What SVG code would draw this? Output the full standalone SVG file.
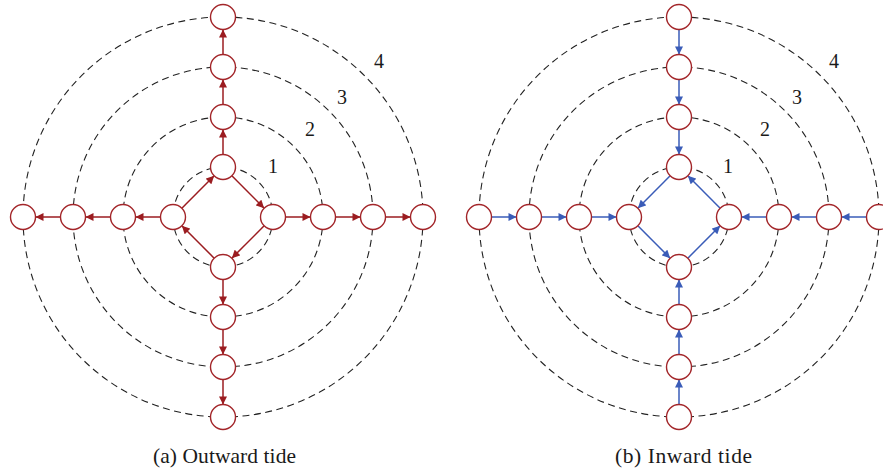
<svg xmlns="http://www.w3.org/2000/svg" width="883" height="470" viewBox="0 0 883 470">
<style>
.ring{fill:none;stroke:#222;stroke-width:1.1;stroke-dasharray:7 4.5}
.node circle{fill:#fff;stroke:#a3262a;stroke-width:1.4}
.out line{stroke:#9b1c20;stroke-width:1.5;marker-end:url(#ar)}
.in line{stroke:#3a5cb8;stroke-width:1.5;marker-end:url(#ab)}
.lbl{font-family:"Liberation Serif",serif;font-size:20px;fill:#1a1a1a}
.cap{font-family:"Liberation Serif",serif;font-size:21.5px;fill:#1a1a1a;text-anchor:middle}
</style>
<defs>
<marker id="ar" viewBox="0 0 10 10" refX="10" refY="5" markerWidth="9" markerHeight="8" markerUnits="userSpaceOnUse" orient="auto"><path d="M0,0 L10,5 L0,10 z" fill="#9b1c20"/></marker>
<marker id="ab" viewBox="0 0 10 10" refX="10" refY="5" markerWidth="9" markerHeight="8" markerUnits="userSpaceOnUse" orient="auto"><path d="M0,0 L10,5 L0,10 z" fill="#3a5cb8"/></marker>
</defs>
<g id="rings">
<circle class="ring" cx="223" cy="217" r="50"/>
<circle class="ring" cx="223" cy="217" r="100"/>
<circle class="ring" cx="223" cy="217" r="150"/>
<circle class="ring" cx="223" cy="217" r="200"/>
<circle class="ring" cx="679" cy="217" r="50"/>
<circle class="ring" cx="679" cy="217" r="100"/>
<circle class="ring" cx="679" cy="217" r="150"/>
<circle class="ring" cx="679" cy="217" r="200"/>
</g>
<g id="connectors">
<g class="out">
<line x1="223" y1="154.5" x2="223" y2="129.5"/>
<line x1="223" y1="104.5" x2="223" y2="79.5"/>
<line x1="223" y1="54.5" x2="223" y2="29.5"/>
<line x1="223" y1="279.5" x2="223" y2="304.5"/>
<line x1="223" y1="329.5" x2="223" y2="354.5"/>
<line x1="223" y1="379.5" x2="223" y2="404.5"/>
<line x1="160.5" y1="217" x2="135.5" y2="217"/>
<line x1="110.5" y1="217" x2="85.5" y2="217"/>
<line x1="60.5" y1="217" x2="35.5" y2="217"/>
<line x1="285.5" y1="217" x2="310.5" y2="217"/>
<line x1="335.5" y1="217" x2="360.5" y2="217"/>
<line x1="385.5" y1="217" x2="410.5" y2="217"/>
<line x1="231.84" y1="175.84" x2="264.16" y2="208.16"/>
<line x1="264.16" y1="225.84" x2="231.84" y2="258.16"/>
<line x1="214.16" y1="258.16" x2="181.84" y2="225.84"/>
<line x1="181.84" y1="208.16" x2="214.16" y2="175.84"/>
</g>
<g class="in">
<line x1="679" y1="29.5" x2="679" y2="54.5"/>
<line x1="679" y1="79.5" x2="679" y2="104.5"/>
<line x1="679" y1="129.5" x2="679" y2="154.5"/>
<line x1="679" y1="404.5" x2="679" y2="379.5"/>
<line x1="679" y1="354.5" x2="679" y2="329.5"/>
<line x1="679" y1="304.5" x2="679" y2="279.5"/>
<line x1="491.5" y1="217" x2="516.5" y2="217"/>
<line x1="541.5" y1="217" x2="566.5" y2="217"/>
<line x1="591.5" y1="217" x2="616.5" y2="217"/>
<line x1="866.5" y1="217" x2="841.5" y2="217"/>
<line x1="816.5" y1="217" x2="791.5" y2="217"/>
<line x1="766.5" y1="217" x2="741.5" y2="217"/>
<line x1="670.16" y1="175.84" x2="637.84" y2="208.16"/>
<line x1="637.84" y1="225.84" x2="670.16" y2="258.16"/>
<line x1="687.84" y1="258.16" x2="720.16" y2="225.84"/>
<line x1="720.16" y1="208.16" x2="687.84" y2="175.84"/>
</g>
</g>
<g id="nodes-a">
<g class="node" id="a-t1"><circle cx="223" cy="167" r="12.5"/></g>
<g class="node" id="a-t2"><circle cx="223" cy="117" r="12.5"/></g>
<g class="node" id="a-t3"><circle cx="223" cy="67" r="12.5"/></g>
<g class="node" id="a-t4"><circle cx="223" cy="17" r="12.5"/></g>
<g class="node" id="a-b1"><circle cx="223" cy="267" r="12.5"/></g>
<g class="node" id="a-b2"><circle cx="223" cy="317" r="12.5"/></g>
<g class="node" id="a-b3"><circle cx="223" cy="367" r="12.5"/></g>
<g class="node" id="a-b4"><circle cx="223" cy="417" r="12.5"/></g>
<g class="node" id="a-l1"><circle cx="173" cy="217" r="12.5"/></g>
<g class="node" id="a-l2"><circle cx="123" cy="217" r="12.5"/></g>
<g class="node" id="a-l3"><circle cx="73" cy="217" r="12.5"/></g>
<g class="node" id="a-l4"><circle cx="23" cy="217" r="12.5"/></g>
<g class="node" id="a-r1"><circle cx="273" cy="217" r="12.5"/></g>
<g class="node" id="a-r2"><circle cx="323" cy="217" r="12.5"/></g>
<g class="node" id="a-r3"><circle cx="373" cy="217" r="12.5"/></g>
<g class="node" id="a-r4"><circle cx="423" cy="217" r="12.5"/></g>
</g>
<g id="nodes-b">
<g class="node" id="b-t1"><circle cx="679" cy="167" r="12.5"/></g>
<g class="node" id="b-t2"><circle cx="679" cy="117" r="12.5"/></g>
<g class="node" id="b-t3"><circle cx="679" cy="67" r="12.5"/></g>
<g class="node" id="b-t4"><circle cx="679" cy="17" r="12.5"/></g>
<g class="node" id="b-b1"><circle cx="679" cy="267" r="12.5"/></g>
<g class="node" id="b-b2"><circle cx="679" cy="317" r="12.5"/></g>
<g class="node" id="b-b3"><circle cx="679" cy="367" r="12.5"/></g>
<g class="node" id="b-b4"><circle cx="679" cy="417" r="12.5"/></g>
<g class="node" id="b-l1"><circle cx="629" cy="217" r="12.5"/></g>
<g class="node" id="b-l2"><circle cx="579" cy="217" r="12.5"/></g>
<g class="node" id="b-l3"><circle cx="529" cy="217" r="12.5"/></g>
<g class="node" id="b-l4"><circle cx="479" cy="217" r="12.5"/></g>
<g class="node" id="b-r1"><circle cx="729" cy="217" r="12.5"/></g>
<g class="node" id="b-r2"><circle cx="779" cy="217" r="12.5"/></g>
<g class="node" id="b-r3"><circle cx="829" cy="217" r="12.5"/></g>
<g class="node" id="b-r4"><circle cx="879" cy="217" r="12.5"/></g>
</g>
<g id="labels">
<text class="lbl" x="268" y="173">1</text>
<text class="lbl" x="305" y="136">2</text>
<text class="lbl" x="337" y="104">3</text>
<text class="lbl" x="374" y="68">4</text>
<text class="lbl" x="723" y="173">1</text>
<text class="lbl" x="760" y="136">2</text>
<text class="lbl" x="792" y="104">3</text>
<text class="lbl" x="829" y="68">4</text>
<text class="cap" x="224.5" y="463" textLength="143" lengthAdjust="spacing">(a) Outward tide</text>
<text class="cap" x="683.5" y="463" textLength="137" lengthAdjust="spacing">(b) Inward tide</text>
</g>
</svg>
